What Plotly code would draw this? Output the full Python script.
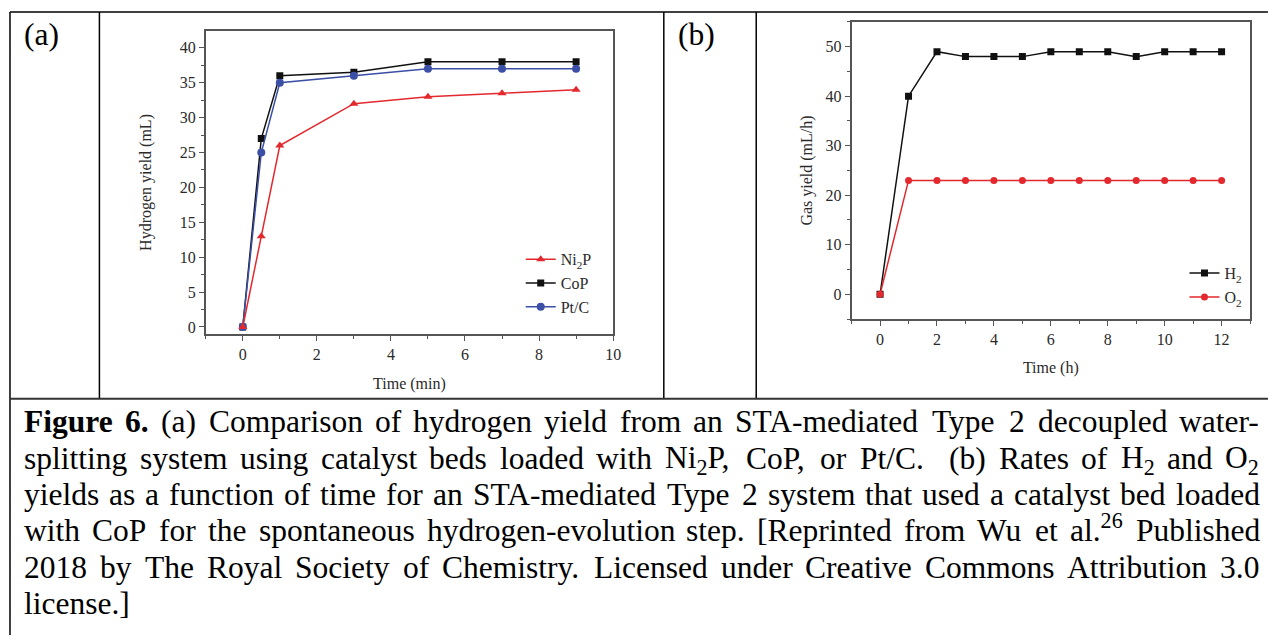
import re
import plotly.graph_objects as go

# page is drawn with an 8px body margin, so the figure is placed at (8, 8)
OFF = 8
FW, FH = 1276 - 2 * OFF, 643 - 2 * OFF

# ---------------- data ----------------
time_min = [0, 0.5, 1, 3, 5, 7, 9]
ni2p = [0, 13, 26, 32, 33, 33.5, 34]
cop = [0, 27, 36, 36.5, 38, 38, 38]
ptc = [0, 25, 35, 36, 37, 37, 37]

time_h = [0, 1, 2, 3, 4, 5, 6, 7, 8, 9, 10, 11, 12]
h2 = [0, 40, 49, 48, 48, 48, 49, 49, 49, 48, 49, 49, 49]
o2 = [0, 23, 23, 23, 23, 23, 23, 23, 23, 23, 23, 23, 23]

caption_lines = [
    "<b>Figure</b> <b>6.</b> (a) Comparison of hydrogen yield from an STA-mediated Type 2 decoupled water-",
    "splitting system using catalyst beds loaded with Ni<sub>2</sub>P, CoP, or Pt/C.  (b) Rates of H<sub>2</sub> and O<sub>2</sub>",
    "yields as a function of time for an STA-mediated Type 2 system that used a catalyst bed loaded",
    "with CoP for the spontaneous hydrogen-evolution step. [Reprinted from Wu et al.<sup>26</sup> Published",
    "2018 by The Royal Society of Chemistry. Licensed under Creative Commons Attribution 3.0",
    "license.]",
]

RED = "#e3282e"
BLUE = "#3b4fa6"
BLACK = "#111111"
SERIF = "Liberation Serif"
TXT = "#2a2a2a"


def px_x(p):
    return (p - OFF) / FW


def px_y(p):
    return 1 - (p - OFF) / FH


fig = go.Figure()

# panel (a) traces (drawing order: CoP, Pt/C, Ni2P on top)
fig.add_trace(go.Scatter(x=time_min, y=cop, name="CoP", mode="lines+markers",
                         line=dict(color=BLACK, width=1.5),
                         marker=dict(symbol="square", size=7, color=BLACK),
                         xaxis="x", yaxis="y", legend="legend", legendrank=2))
fig.add_trace(go.Scatter(x=time_min, y=ptc, name="Pt/C", mode="lines+markers",
                         line=dict(color=BLUE, width=1.5),
                         marker=dict(symbol="circle", size=8, color=BLUE),
                         xaxis="x", yaxis="y", legend="legend", legendrank=3))
fig.add_trace(go.Scatter(x=time_min, y=ni2p, name="Ni<sub>2</sub>P", mode="lines+markers",
                         line=dict(color=RED, width=1.5),
                         marker=dict(symbol="triangle-up", size=8, color=RED),
                         xaxis="x", yaxis="y", legend="legend", legendrank=1))

# panel (b) traces
fig.add_trace(go.Scatter(x=time_h, y=h2, name="H<sub>2</sub>", mode="lines+markers",
                         line=dict(color=BLACK, width=1.5),
                         marker=dict(symbol="square", size=7, color=BLACK),
                         xaxis="x2", yaxis="y2", legend="legend2"))
fig.add_trace(go.Scatter(x=time_h, y=o2, name="O<sub>2</sub>", mode="lines+markers",
                         line=dict(color=RED, width=1.5),
                         marker=dict(symbol="circle", size=7, color=RED),
                         xaxis="x2", yaxis="y2", legend="legend2"))

axis_common = dict(showgrid=False, zeroline=False, mirror=True, showline=True,
                   linecolor="#555555", linewidth=1.6, ticks="outside", ticklen=5,
                   tickwidth=1.2, tickcolor="#555555",
                   tickfont=dict(family=SERIF, size=16, color=TXT))
minor_common = dict(ticks="outside", ticklen=3, tickcolor="#555555", tickwidth=1.2)

fig.update_layout(
    width=FW, height=FH,
    margin=dict(l=0, r=0, t=0, b=0),
    paper_bgcolor="white", plot_bgcolor="white",
    xaxis=dict(domain=[px_x(207), px_x(617)], range=[-1, 10], dtick=2, tick0=0,
               minor=dict(dtick=1, **minor_common),
               title=dict(text="Time (min)", font=dict(family=SERIF, size=16, color=TXT), standoff=16),
               anchor="y", **axis_common),
    yaxis=dict(domain=[px_y(335), px_y(31)], range=[-1, 42.43], dtick=5, tick0=0,
               minor=dict(dtick=2.5, **minor_common),
               title=dict(text="Hydrogen yield (mL)", font=dict(family=SERIF, size=16, color=TXT), standoff=24),
               anchor="x", **axis_common),
    xaxis2=dict(domain=[px_x(857), px_x(1258)], range=[-1, 13], dtick=2, tick0=0,
                minor=dict(dtick=1, **minor_common),
                title=dict(text="Time (h)", font=dict(family=SERIF, size=16, color=TXT), standoff=15),
                anchor="y2", **axis_common),
    yaxis2=dict(domain=[px_y(320), px_y(22)], range=[-5, 55], dtick=10, tick0=0,
                minor=dict(dtick=5, **minor_common),
                title=dict(text="Gas yield (mL/h)", font=dict(family=SERIF, size=16, color=TXT), standoff=9),
                anchor="x2", **axis_common),
    legend=dict(x=px_x(524), y=px_y(243), xanchor="left", yanchor="top",
                bgcolor="rgba(0,0,0,0)", font=dict(family=SERIF, size=16, color=TXT),
                itemwidth=30, tracegroupgap=0),
    legend2=dict(x=px_x(1192), y=px_y(257), xanchor="left", yanchor="top",
                 bgcolor="rgba(0,0,0,0)", font=dict(family=SERIF, size=16, color=TXT),
                 itemwidth=30, tracegroupgap=0),
    showlegend=True,
)

# ---------------- table frame ----------------
shapes = []


def hline(y, x0, x1, w=1.5, c="#000000"):
    shapes.append(dict(type="line", xref="paper", yref="paper",
                       x0=px_x(x0), x1=px_x(x1), y0=px_y(y), y1=px_y(y),
                       line=dict(color=c, width=w)))


def vline(x, y0, y1, w=1.5, c="#000000"):
    shapes.append(dict(type="line", xref="paper", yref="paper",
                       x0=px_x(x), x1=px_x(x), y0=px_y(y0), y1=px_y(y1),
                       line=dict(color=c, width=w)))


hline(12, 10, 1276)
vline(10, 12, 643)
vline(100, 12, 400)
vline(668, 12, 400)
vline(761, 12, 400)
hline(400, 10, 1276, w=2, c="#333333")
fig.update_layout(shapes=shapes)

# ---------------- text ----------------
TIMES = {
    ' ': 250, '!': 333, '(': 333, ')': 333, ',': 250, '-': 333, '.': 250, '/': 278,
    '0': 500, '1': 500, '2': 500, '3': 500, '4': 500, '5': 500, '6': 500, '7': 500,
    '8': 500, '9': 500, '[': 333, ']': 333,
    'A': 722, 'B': 667, 'C': 667, 'D': 722, 'E': 611, 'F': 556, 'G': 722, 'H': 722,
    'I': 333, 'J': 389, 'K': 722, 'L': 611, 'M': 889, 'N': 722, 'O': 722, 'P': 556,
    'Q': 722, 'R': 667, 'S': 556, 'T': 611, 'U': 722, 'V': 722, 'W': 944, 'X': 722,
    'Y': 722, 'Z': 611,
    'a': 444, 'b': 500, 'c': 444, 'd': 500, 'e': 444, 'f': 333, 'g': 500, 'h': 500,
    'i': 278, 'j': 278, 'k': 500, 'l': 278, 'm': 778, 'n': 500, 'o': 500, 'p': 500,
    'q': 500, 'r': 333, 's': 389, 't': 278, 'u': 500, 'v': 500, 'w': 722, 'x': 500,
    'y': 500, 'z': 444,
}
TIMES_B = dict(TIMES)
TIMES_B.update({'F': 611, 'i': 278, 'g': 500, 'u': 556, 'r': 444, 'e': 444, '6': 500, '.': 250})


def text_width(s, size):
    w = 0.0
    bold = False
    scale = 1.0
    for part in re.split(r'(<[^>]+>)', s):
        if not part:
            continue
        if part.startswith('<'):
            closing = part.startswith('</')
            tag = part.strip('<>/').lower()
            if tag == 'b':
                bold = not closing
            elif tag in ('sub', 'sup'):
                scale = 1.0 if closing else 0.7
            continue
        tbl = TIMES_B if bold else TIMES
        for ch in part:
            w += tbl.get(ch, 500) * scale
    return w * size / 1000.0


annotations = []
CF = 31.5
LEFT, RIGHT = 24, 1267
line_y = [423, 459.5, 496, 532.5, 569, 605.5]
for i, line in enumerate(caption_lines):
    tokens = line.split(' ')
    widths = [text_width(t, CF) for t in tokens]
    if i < len(caption_lines) - 1 and len(tokens) > 1:
        gap = (RIGHT - LEFT - sum(widths)) / (len(tokens) - 1)
    else:
        gap = CF * 0.25
    x = LEFT
    for t, w in zip(tokens, widths):
        if t:
            yc = line_y[i]
            if '<sub>' in t:
                yc += 0.072 * CF
            if '<sup>' in t:
                yc -= 0.075 * CF
            annotations.append(dict(text=t, x=px_x(x), y=px_y(yc), xref="paper", yref="paper",
                                    xanchor="left", yanchor="middle", showarrow=False,
                                    borderpad=0, borderwidth=0,
                                    font=dict(family=SERIF, size=CF, color="#000000")))
        x += w + gap

for lab, xp in [("(a)", 24), ("(b)", 682)]:
    annotations.append(dict(text=lab, x=px_x(xp), y=px_y(35), xref="paper", yref="paper",
                            xanchor="left", yanchor="middle", showarrow=False,
                            borderpad=0, borderwidth=0,
                            font=dict(family=SERIF, size=CF, color="#000000")))

fig.update_layout(annotations=annotations)

fig.write_html("out.html")
